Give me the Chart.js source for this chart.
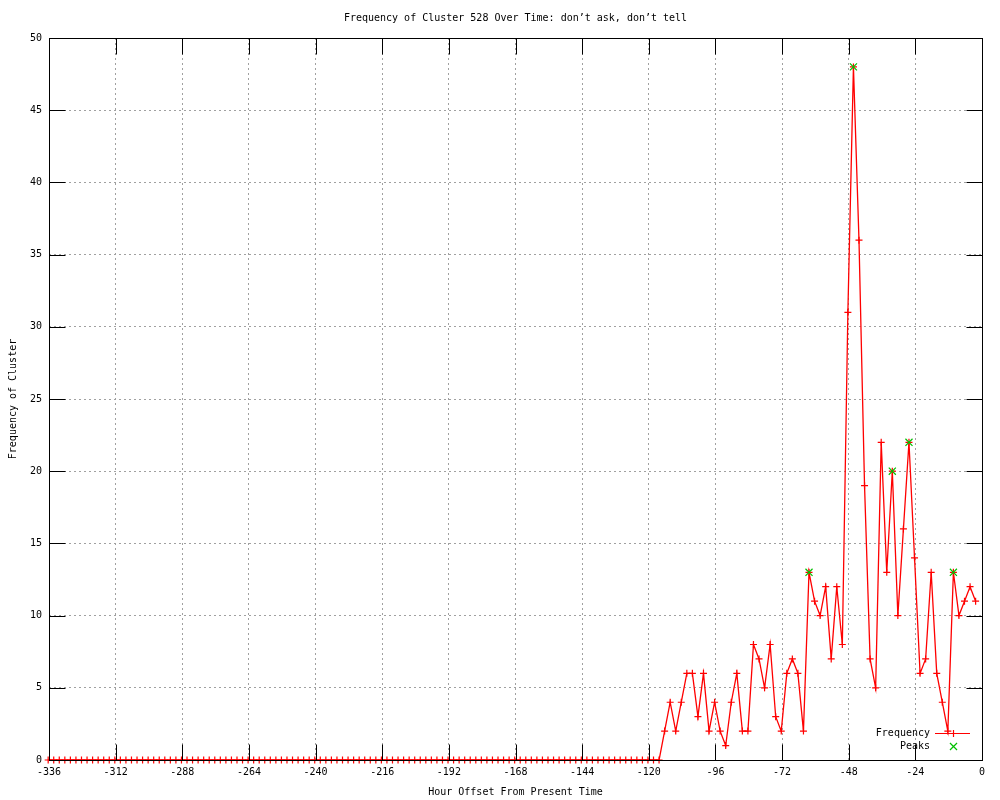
<!DOCTYPE html>
<html>
<head>
<meta charset="utf-8">
<script src="https://cdn.jsdelivr.net/npm/chart.js@4/dist/chart.umd.min.js"></script>
<style>
html, body { margin: 0; padding: 0; background: #fff; }
#wrap { width: 1000px; height: 800px; }
</style>
</head>
<body>
<div id="wrap"><canvas id="clusterChart"></canvas></div>
<script>
// hour offsets: one sample every 2 hours, starting just before -336
const firstHour = -336.3;
const hourStep = 2;

const frequency = [
    0, 0, 0, 0, 0, 0, 0, 0, 0, 0,
    0, 0, 0, 0, 0, 0, 0, 0, 0, 0,
    0, 0, 0, 0, 0, 0, 0, 0, 0, 0,
    0, 0, 0, 0, 0, 0, 0, 0, 0, 0,
    0, 0, 0, 0, 0, 0, 0, 0, 0, 0,
    0, 0, 0, 0, 0, 0, 0, 0, 0, 0,
    0, 0, 0, 0, 0, 0, 0, 0, 0, 0,
    0, 0, 0, 0, 0, 0, 0, 0, 0, 0,
    0, 0, 0, 0, 0, 0, 0, 0, 0, 0,
    0, 0, 0, 0, 0, 0, 0, 0, 0, 0,
    0, 0, 0, 0, 0, 0, 0, 0, 0, 0,
    0,
    2, 4, 2, 4, 6, 6, 3, 6, 2, 4,
    2, 1, 4, 6, 2, 2, 8, 7, 5, 8,
    3, 2, 6, 7, 6, 2, 13, 11, 10, 12,
    7, 12, 8, 31, 48, 36, 19, 7, 5, 22,
    13, 20, 10, 16, 22, 14, 6, 7, 13, 6,
    4, 2, 13, 10, 11, 12, 11
];
const peakIndex = [137, 145, 152, 155, 163];

const xTicks = [-336, -312, -288, -264, -240, -216, -192, -168, -144, -120, -96, -72, -48, -24, 0];
const yTicks = [0, 5, 10, 15, 20, 25, 30, 35, 40, 45, 50];

const freqColor = "#ff0000";
const peakColor = "#00c000";

const freqPoints = frequency.map((v, i) => ({ x: firstHour + i * hourStep, y: v }));
const peakPoints = peakIndex.map(i => freqPoints[i]);

const monoFont = { family: "'DejaVu Sans Mono', monospace", size: 10 };
const tickLen = 16;

// gnuplot-like frame with inward ticks on all four sides
const frameTicks = {
    id: "frameTicks",
    afterDatasetsDraw(chart) {
        const { ctx, chartArea: a, scales } = chart;
        const L = Math.round(a.left) + 0.5, R = Math.round(a.right) + 0.5;
        const T = Math.round(a.top) + 0.5, B = Math.round(a.bottom) + 0.5;
        ctx.save();
        ctx.strokeStyle = "#000";
        ctx.lineWidth = 1;
        ctx.beginPath();
        xTicks.forEach(v => {
            const px = Math.round(scales.x.getPixelForValue(v)) + 0.5;
            ctx.moveTo(px, B); ctx.lineTo(px, B - tickLen);
            ctx.moveTo(px, T); ctx.lineTo(px, T + tickLen);
        });
        yTicks.forEach(v => {
            const py = Math.round(scales.y.getPixelForValue(v)) + 0.5;
            ctx.moveTo(L, py); ctx.lineTo(L + tickLen, py);
            ctx.moveTo(R, py); ctx.lineTo(R - tickLen, py);
        });
        ctx.stroke();
        ctx.strokeRect(L, T, R - L, B - T);
        ctx.restore();
    }
};

// key in the lower right corner, text left of the sample
const keyEntries = [
    { label: "Frequency", color: freqColor, line: true, cross: "plus", r: 3.5 },
    { label: "Peaks", color: peakColor, line: false, cross: "x", r: 5 }
];
const cornerKey = {
    id: "cornerKey",
    afterDraw(chart) {
        const { ctx, chartArea: a } = chart;
        ctx.save();
        ctx.font = "10px 'DejaVu Sans Mono', monospace";
        ctx.textAlign = "right";
        ctx.textBaseline = "middle";
        keyEntries.forEach((k, i) => {
            const y = Math.round(a.bottom - 27 + i * 13) + 0.5;
            const sx = Math.round(a.right - 29) + 0.5;
            ctx.fillStyle = "#000";
            ctx.fillText(k.label, a.right - 52, y);
            ctx.strokeStyle = k.color;
            ctx.lineWidth = 1.2;
            ctx.beginPath();
            if (k.line) {
                ctx.moveTo(a.right - 47, y); ctx.lineTo(a.right - 12, y);
            }
            if (k.cross === "plus") {
                ctx.moveTo(sx - k.r, y); ctx.lineTo(sx + k.r, y);
                ctx.moveTo(sx, y - k.r); ctx.lineTo(sx, y + k.r);
            } else {
                const d = k.r * Math.SQRT1_2;
                ctx.moveTo(sx - d, y - d); ctx.lineTo(sx + d, y + d);
                ctx.moveTo(sx - d, y + d); ctx.lineTo(sx + d, y - d);
            }
            ctx.stroke();
        });
        ctx.restore();
    }
};

new Chart(document.getElementById("clusterChart"), {
    type: "line",
    data: {
        datasets: [{
            label: "Frequency",
            data: freqPoints,
            borderColor: freqColor,
            borderWidth: 1.3,
            pointStyle: "cross",
            pointRadius: 3.5,
            pointHoverRadius: 3.5,
            pointBorderColor: freqColor,
            pointBorderWidth: 1.2,
            tension: 0,
            clip: false,
            order: 1
        }, {
            label: "Peaks",
            data: peakPoints,
            showLine: false,
            pointStyle: "crossRot",
            pointRadius: 5,
            pointHoverRadius: 5,
            pointBorderColor: peakColor,
            pointBorderWidth: 1.2,
            clip: false,
            order: 0
        }]
    },
    options: {
        responsive: true,
        maintainAspectRatio: false,
        animation: false,
        events: [],
        layout: { padding: { left: 0, right: 18, top: 0, bottom: 0 } },
        plugins: {
            legend: { display: false },
            tooltip: { enabled: false },
            title: {
                display: true,
                fullSize: false,
                text: "Frequency of Cluster 528 Over Time: don’t ask, don’t tell",
                color: "#000",
                font: { family: monoFont.family, size: 10, weight: "normal" },
                padding: { top: 12, bottom: 14 }
            }
        },
        scales: {
            x: {
                type: "linear",
                min: -336,
                max: 0,
                afterBuildTicks: s => { s.ticks = xTicks.map(v => ({ value: v })); },
                afterFit: s => { s.height = 40; },
                ticks: { color: "#000", font: monoFont, padding: 6, maxRotation: 0, autoSkip: false },
                grid: { color: "#a0a0a0", lineWidth: 1, drawTicks: false },
                border: { display: false, dash: [2, 3] },
                title: {
                    display: true,
                    text: "Hour Offset From Present Time",
                    color: "#000",
                    font: monoFont,
                    padding: { top: 0, bottom: 2 }
                }
            },
            y: {
                min: 0,
                max: 50,
                afterBuildTicks: s => { s.ticks = yTicks.map(v => ({ value: v })); },
                afterFit: s => { s.width = 49; },
                ticks: { color: "#000", font: monoFont, padding: 7 },
                grid: { color: "#a0a0a0", lineWidth: 1, drawTicks: false },
                border: { display: false, dash: [2, 3] },
                title: {
                    display: true,
                    text: "Frequency of Cluster",
                    color: "#000",
                    font: monoFont,
                    padding: { top: 7, bottom: 0 }
                }
            }
        }
    },
    plugins: [frameTicks, cornerKey]
});
</script>
</body>
</html>
